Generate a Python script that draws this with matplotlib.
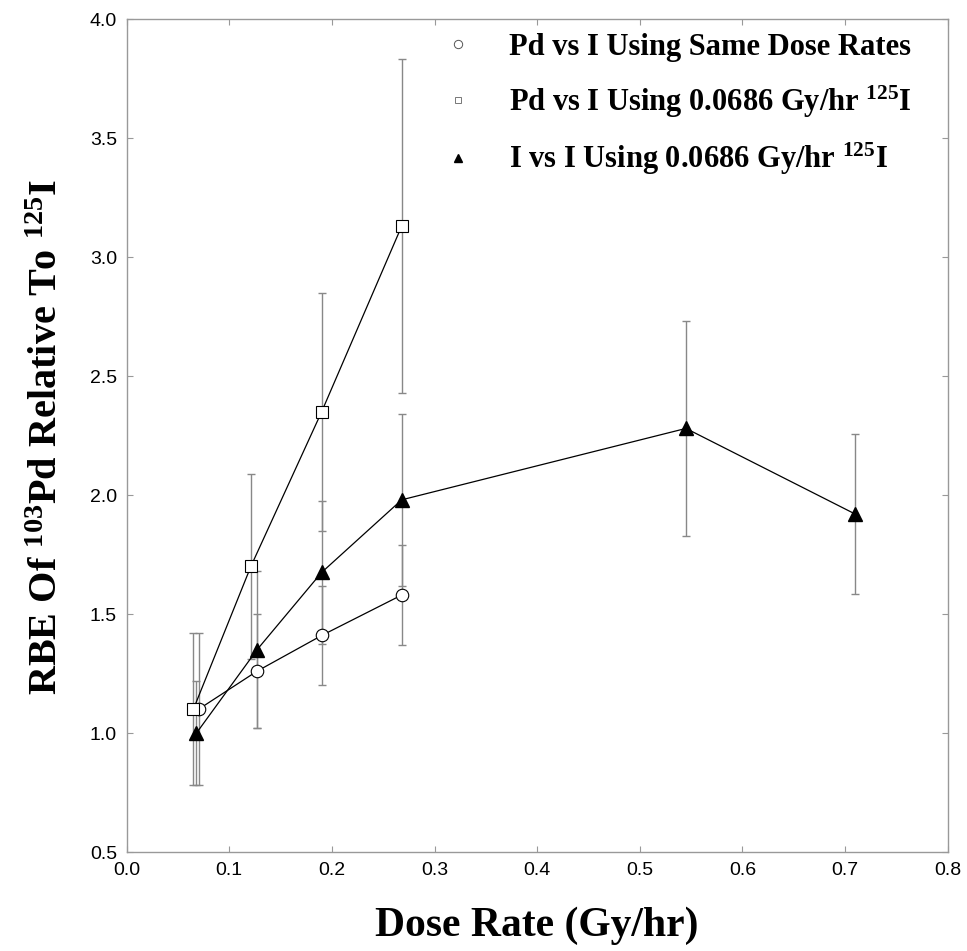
import matplotlib
matplotlib.use("Agg")
import matplotlib.pyplot as plt

# Data
circ_x = [0.070, 0.127, 0.190, 0.268]
circ_y = [1.10, 1.26, 1.41, 1.58]
circ_err = [0.32, 0.24, 0.21, 0.21]

sq_x = [0.065, 0.121, 0.190, 0.268]
sq_y = [1.10, 1.70, 2.35, 3.13]
sq_err = [0.32, 0.39, 0.50, 0.70]

tri_x = [0.068, 0.127, 0.190, 0.268, 0.545, 0.710]
tri_y = [1.00, 1.35, 1.675, 1.98, 2.28, 1.92]
tri_err = [0.22, 0.33, 0.30, 0.36, 0.45, 0.335]

labels = ["Pd vs I Using Same Dose Rates",
          "Pd vs I Using 0.0686 Gy/hr $^{125}$I",
          "I vs I Using 0.0686 Gy/hr $^{125}$I"]

xticks = [0.0, 0.1, 0.2, 0.3, 0.4, 0.5, 0.6, 0.7, 0.8]
yticks = [0.5, 1.0, 1.5, 2.0, 2.5, 3.0, 3.5, 4.0]

plt.rcParams['mathtext.fontset'] = 'custom'
plt.rcParams['mathtext.rm'] = 'Liberation Serif:bold'
plt.rcParams['mathtext.it'] = 'Liberation Serif:bold'
plt.rcParams['mathtext.bf'] = 'Liberation Serif:bold'

fig = plt.figure(figsize=(9.67, 9.51), dpi=100)
ax = fig.add_axes([0.131, 0.104, 0.849, 0.876])

ebkw = dict(ecolor='#888888', elinewidth=1.0, capsize=3, capthick=1.0)

ax.errorbar(sq_x, sq_y, yerr=sq_err, fmt='none', **ebkw)
ax.errorbar(circ_x, circ_y, yerr=circ_err, fmt='none', **ebkw)
ax.errorbar(tri_x, tri_y, yerr=tri_err, fmt='none', **ebkw)

l1, = ax.plot(circ_x, circ_y, color='black', lw=0.9, marker='o', ms=9,
              mfc='white', mec='black', mew=0.8, label=labels[0])
l2, = ax.plot(sq_x, sq_y, color='black', lw=0.9, marker='s', ms=8,
              mfc='white', mec='black', mew=0.8, label=labels[1])
l3, = ax.plot(tri_x, tri_y, color='black', lw=0.9, marker='^', ms=10,
              mfc='black', mec='black', label=labels[2])

h1, = ax.plot([], [], ls='none', marker='o', ms=6, mfc='white', mec='#555555', mew=0.7)
h2, = ax.plot([], [], ls='none', marker='s', ms=5, mfc='white', mec='#777777', mew=0.7)
h3, = ax.plot([], [], ls='none', marker='^', ms=6, mfc='black', mec='black')

leg = ax.legend([h1, h2, h3], labels, loc='upper left', bbox_to_anchor=(0.352, 1.016),
                frameon=False, labelspacing=0.7, handletextpad=1.15, handlelength=1.0,
                prop=dict(family='Liberation Serif', weight='bold', size=22))

ax.set_xlim(0.0, 0.8)
ax.set_ylim(0.5, 4.0)
ax.set_xticks(xticks)
ax.set_yticks(yticks)
ax.set_xticklabels([f"{v:.1f}" for v in xticks], family='Liberation Sans', size=14)
ax.set_yticklabels([f"{v:.1f}" for v in yticks], family='Liberation Sans', size=14)
ax.tick_params(direction='in', length=4, width=0.8, color='#999999', top=True, right=True, pad=7)
for s in ax.spines.values():
    s.set_color('#999999')
    s.set_linewidth(1.0)

fig.text(0.555, 0.027, "Dose Rate (Gy/hr)", ha='center', va='center',
         family='Liberation Serif', weight='bold', size=30)
fig.text(0.049, 0.54, "RBE Of $^{103}$Pd Relative To $^{125}$I", ha='center', va='center',
         rotation=90, family='Liberation Serif', weight='bold', size=29)

fig.savefig("out.png", dpi=100)
